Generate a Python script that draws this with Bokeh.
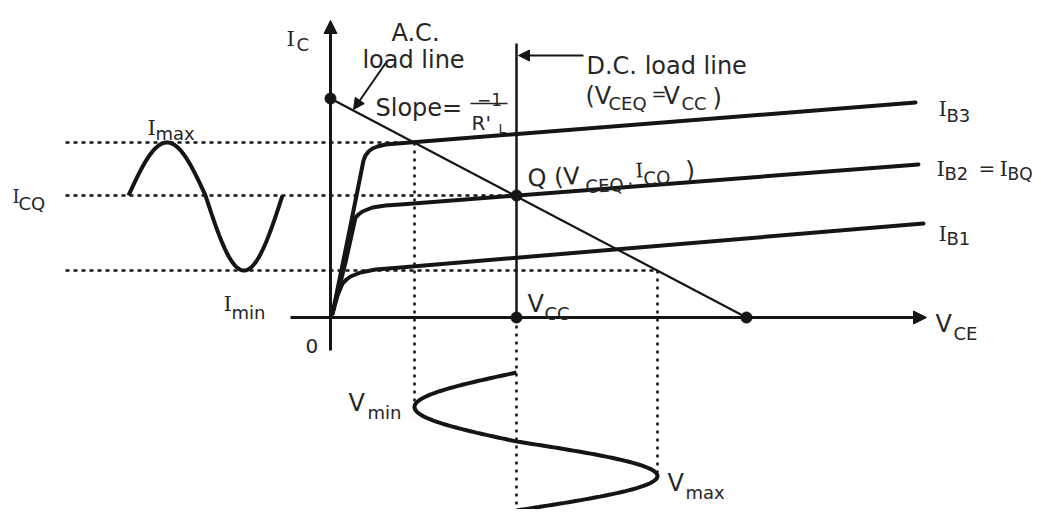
import numpy as np
from bokeh.plotting import figure
from bokeh.models import Range1d, Label, Arrow, NormalHead
from bokeh.embed import file_html
from bokeh.resources import INLINE

# ---------------- data (VCE units horizontally, IC units vertically) ----------------
IC_SAT = 219      # A.C. load line intercept on IC axis
VCE_CUT = 416     # A.C. load line intercept on VCE axis
VCC = 186         # D.C. load line (VCEQ = VCC)
ICQ = 122
I_MAX = 175
I_MIN = 47
V_MIN = 84
V_MAX = 327

ib3_v = [2, 18, 28, 33, 35, 38, 42, 47, 55, 67, 585]
ib3_i = [4, 82, 132, 157, 162, 166, 169, 171, 173, 174, 215]
ib2_v = [2, 15, 25, 28, 32, 37, 42, 55, 70, 588]
ib2_i = [4, 55, 100, 103, 106, 108, 110, 112, 113, 153]
ib1_v = [2, 7, 12, 16, 20, 25, 30, 45, 70, 593]
ib1_i = [4, 22, 34, 38, 41, 43, 45, 48, 50, 94]
curve_names = ["B3", "B2", "B1"]

# input (IC) wave span on the left, output (VCE) wave span below
IWAVE_X0, IWAVE_X1 = -202, -48
VWAVE_Y0, VWAVE_Y1 = -55, -193

# ---------------- figure ----------------
p = figure(width=1040, height=509, x_range=Range1d(-330, 710), y_range=Range1d(-192, 317),
           output_backend="svg", toolbar_location=None, min_border=0,
           x_axis_location=None, y_axis_location=None)
p.grid.grid_line_color = None
p.outline_line_color = None
p.background_fill_color = "white"

INK = "#151515"
TXT = "#262626"
SANS = "DejaVu Sans"
SERIF = "DejaVu Serif"

# dashed projection lines
p.segment(x0=[-265, -265, -265], y0=[I_MAX, ICQ, I_MIN],
          x1=[V_MIN, VCC, V_MAX], y1=[I_MAX, ICQ, I_MIN],
          line_color=INK, line_width=2.5, line_dash="4 4")
p.segment(x0=[V_MIN, V_MAX, VCC], y0=[I_MAX, I_MIN, 0],
          x1=[V_MIN, V_MAX, VCC], y1=[-88, -155, -210],
          line_color=INK, line_width=2.5, line_dash="3 5")

# axes
p.segment(x0=[0, -40], y0=[-33, 0], x1=[0, 580], y1=[285, 0], line_color=INK, line_width=3)
p.add_layout(Arrow(x_start=0, y_start=270, x_end=0, y_end=297, line_color=INK, line_width=3,
                   end=NormalHead(size=13, fill_color=INK, line_color=INK)))
p.add_layout(Arrow(x_start=570, y_start=0, x_end=596, y_end=0, line_color=INK, line_width=3,
                   end=NormalHead(size=13, fill_color=INK, line_color=INK)))

# load lines
p.line([0, VCE_CUT], [IC_SAT, 0], line_color=INK, line_width=2.2)
p.segment(x0=[VCC], y0=[0], x1=[VCC], y1=[274], line_color=INK, line_width=2.5)

# characteristic curves
for v, i in [(ib3_v, ib3_i), (ib2_v, ib2_i), (ib1_v, ib1_i)]:
    p.line(v, i, line_color=INK, line_width=4, line_join="round", line_cap="round")

# points
p.scatter([0, VCC, VCC, VCE_CUT], [IC_SAT, ICQ, 0, 0], size=11, color=INK)

# input current wave (left)
t = np.linspace(0, 2 * np.pi, 200)
s = np.sin(t)
iw_x = IWAVE_X0 + (IWAVE_X1 - IWAVE_X0) * t / (2 * np.pi)
iw_y = np.where(s >= 0, ICQ + (I_MAX - ICQ) * s, ICQ + (ICQ - I_MIN) * s)
p.line(iw_x, iw_y, line_color=INK, line_width=4)

# output voltage wave (below)
vw_y = VWAVE_Y0 + (VWAVE_Y1 - VWAVE_Y0) * t / (2 * np.pi)
vw_x = np.where(s >= 0, VCC - (VCC - V_MIN) * s, VCC - (V_MAX - VCC) * s)
p.line(vw_x, vw_y, line_color=INK, line_width=4)

# annotation arrows
p.add_layout(Arrow(x_start=57, y_start=257, x_end=23, y_end=208, line_color=INK, line_width=2,
                   end=NormalHead(size=11, fill_color=INK, line_color=INK)))
p.add_layout(Arrow(x_start=253, y_start=262, x_end=188, y_end=262, line_color=INK, line_width=2,
                   end=NormalHead(size=11, fill_color=INK, line_color=INK)))
# fraction bar of the slope
p.segment(x0=[140], y0=[214], x1=[177], y1=[214], line_color=TXT, line_width=1.5)


def lab(text, x, y, size=24, font=SANS, align="left", angle=0.0):
    p.add_layout(Label(x=x, y=y, text=text, text_font=font, text_font_size=f"{size}px",
                       text_color=TXT, text_align=align, text_baseline="alphabetic",
                       angle=angle))


MAIN, SUB = 24, 18
# I_C
lab("I", -44, 279, 21, SERIF); lab("C", -34, 273, SUB)
# A.C. load line
lab("A.C.", 85, 285, MAIN, align="center")
lab("load line", 83, 258, MAIN, align="center")
lab("Slope=", 45, 210, MAIN)
lab("\u22121", 159, 218, 17, align="center")
lab("R'", 141, 195, 20)
lab("L", 168, 189, 13)
# D.C. load line
lab("D.C. load line", 256, 252, MAIN)
lab("(V", 255, 222, MAIN); lab("CEQ", 278, 214, SUB)
lab("=", 321, 224, SUB); lab("V", 333, 222, MAIN); lab("CC", 351, 214, SUB)
lab(")", 382, 220, MAIN)
# Q point
A = 0.05
lab("Q (V", 197, 139, MAIN, angle=A); lab("CEQ", 255, 131, SUB, angle=A)
lab("\u00b7", 297, 134, SUB, angle=A); lab("I", 305, 147, 20, SERIF, angle=A)
lab("CQ", 313, 139, SUB, angle=A); lab(")", 355, 147, MAIN, angle=A)
# base current labels
lab("I", 608, 209, 21, SERIF); lab(curve_names[0], 616, 202, SUB)
lab("I", 606, 149, 21, SERIF); lab(curve_names[1], 614, 144, SUB)
lab("=", 648, 150, 20); lab("I", 669, 149, 21, SERIF); lab("BQ", 677, 144, 17)
lab("I", 608, 84, 21, SERIF); lab(curve_names[2], 616, 79, SUB)
# axis labels
lab("V", 197, 14, MAIN); lab("CC", 214, 4, SUB)
lab("V", 605, -6, MAIN); lab("CE", 623, -16, SUB)
lab("0", -25, -28, 20)
# wave labels
lab("I", -183, 190, 21, SERIF); lab("max", -175, 184, SUB)
lab("I", -318, 121, 18, SERIF); lab("CQ", -312, 114, SUB)
lab("I", -107, 14, 21, SERIF); lab("min", -99, 5, SUB)
lab("V", 18, -85, MAIN); lab("min", 37, -95, SUB)
lab("V", 337, -165, MAIN); lab("max", 355, -175, SUB)

open("out.html", "w").write(file_html(p, INLINE))
